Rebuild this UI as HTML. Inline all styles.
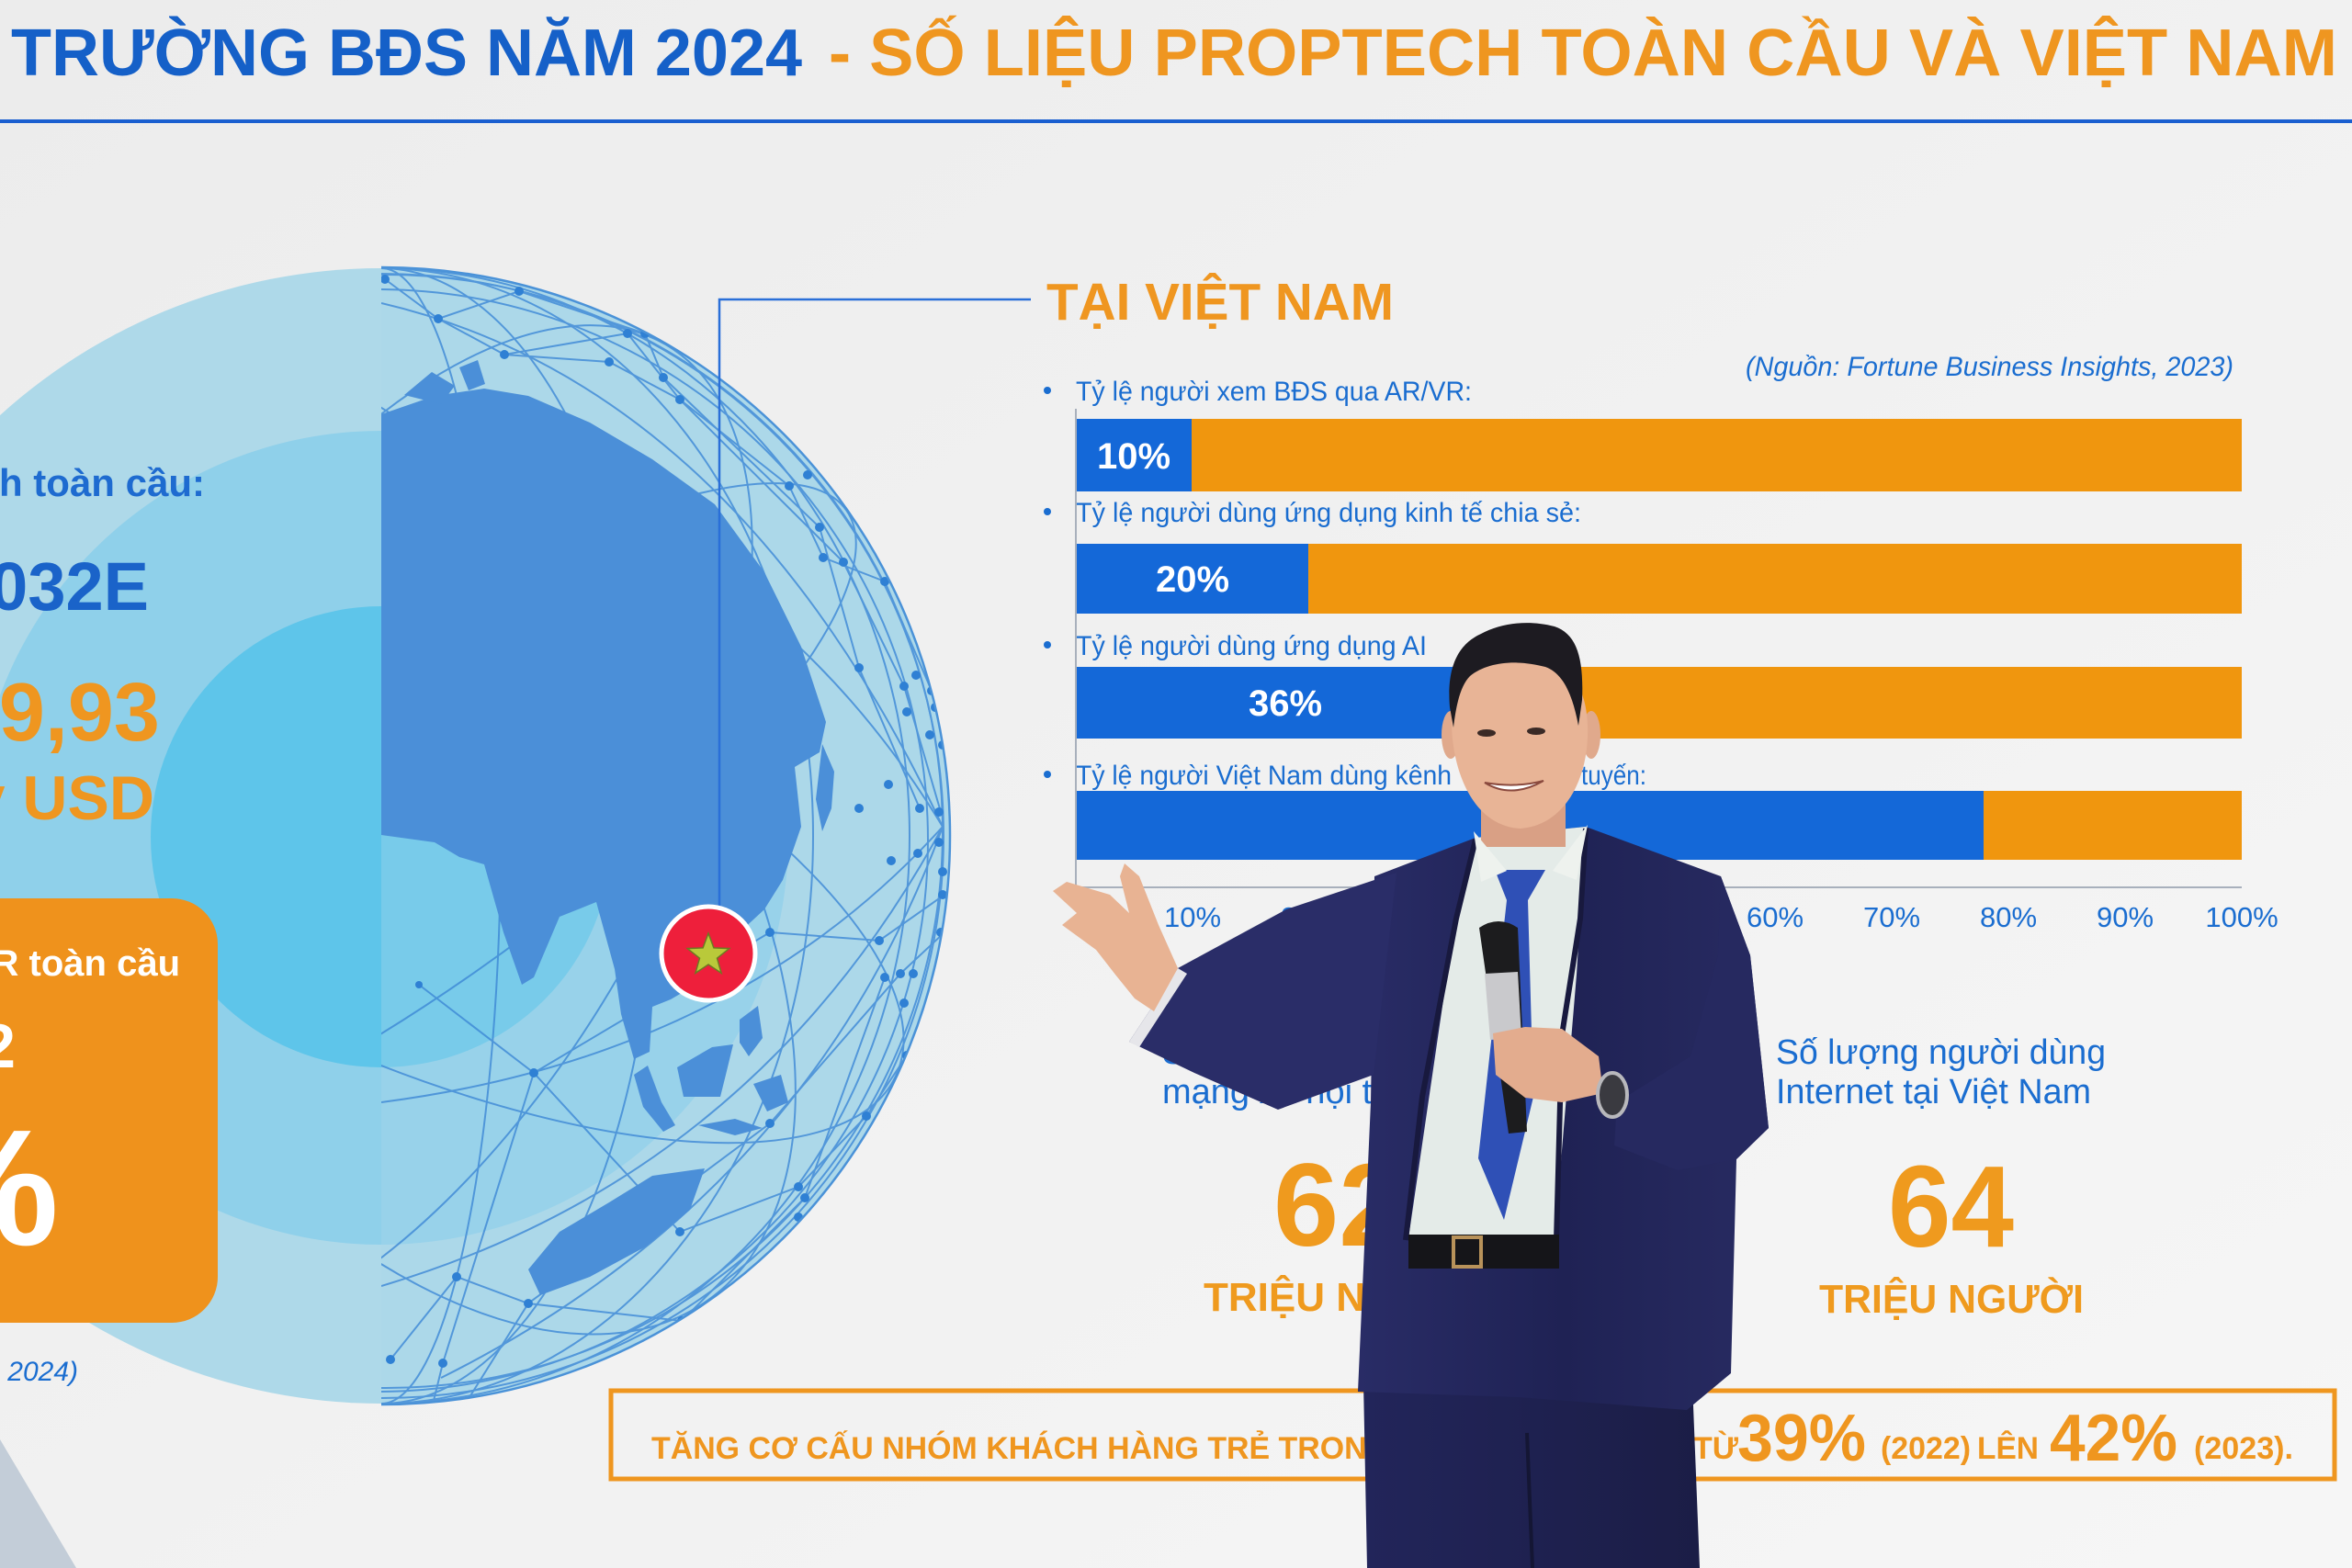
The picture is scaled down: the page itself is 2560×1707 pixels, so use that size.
<!DOCTYPE html>
<html lang="vi">
<head>
<meta charset="utf-8">
<style>
html,body{margin:0;padding:0;background:#f1f1f1;}
svg{display:block;}
text{font-family:"Liberation Sans","Noto Sans CJK SC",sans-serif;}
</style>
</head>
<body>
<svg xmlns="http://www.w3.org/2000/svg" width="2560" height="1707" viewBox="0 0 2560 1707">
<defs>
  <clipPath id="gl"><path d="M415,291 A619,619 0 0 1 415,1529 Z"/></clipPath>
  <linearGradient id="bg" x1="0" y1="0" x2="1" y2="1">
    <stop offset="0" stop-color="#ececec"/><stop offset="1" stop-color="#f6f6f6"/>
  </linearGradient>
  <linearGradient id="suit" x1="0" y1="0" x2="1" y2="0">
    <stop offset="0" stop-color="#292c66"/><stop offset="0.5" stop-color="#1f2254"/><stop offset="1" stop-color="#282b62"/>
  </linearGradient>
  <linearGradient id="pants" x1="0" y1="0" x2="1" y2="0">
    <stop offset="0" stop-color="#22255a"/><stop offset="1" stop-color="#1b1d46"/>
  </linearGradient>
</defs>

<!-- background -->
<rect x="0" y="0" width="2560" height="1707" fill="url(#bg)"/>

<!-- title -->
<text x="12" y="82" font-size="72" font-weight="bold" fill="#1560c8" textLength="861" lengthAdjust="spacingAndGlyphs">TRƯỜNG BĐS NĂM 2024</text>
<text x="902" y="82" font-size="72" font-weight="bold" fill="#ef9620" textLength="1642" lengthAdjust="spacingAndGlyphs">- SỐ LIỆU PROPTECH TOÀN CẦU VÀ VIỆT NAM</text>
<rect x="0" y="130" width="2560" height="4" fill="#1a5fd0"/>

<!-- concentric discs -->
<circle cx="415" cy="910" r="618" fill="#aed9e9"/>
<circle cx="415" cy="912" r="443" fill="#8fd0ea"/>
<circle cx="415" cy="911" r="251" fill="#5ec5ea"/>

<!-- globe right half -->
<g clip-path="url(#gl)">
  <rect x="415" y="290" width="620" height="1240" fill="#a9d6ea" opacity="0.35"/>
  <!-- network -->
  <g fill="none" stroke="#3d88d6" stroke-width="2" opacity="0.8">
    <path d="M415,292 A130,618 0 0 1 415,1528"/>
    <path d="M415,292 A300,618 0 0 1 415,1528"/>
    <path d="M415,292 A470,618 0 0 1 415,1528"/>
    <path d="M415,292 A575,618 0 0 1 415,1528"/>
    <ellipse cx="415" cy="910" rx="618" ry="180" transform="rotate(-35 415 910)"/>
    <ellipse cx="415" cy="910" rx="618" ry="300" transform="rotate(-60 415 910)"/>
    <ellipse cx="415" cy="910" rx="618" ry="230" transform="rotate(25 415 910)"/>
    <ellipse cx="415" cy="910" rx="618" ry="340" transform="rotate(55 415 910)"/>
    <circle cx="415" cy="910" r="612"/>
    <circle cx="420" cy="905" r="606"/>
    <circle cx="410" cy="915" r="600"/>
    <path d="M415,330 Q800,420 1026,900"/>
    <path d="M415,470 Q820,560 1026,900"/>
    <path d="M415,1200 Q800,1150 1026,900"/>
    <path d="M415,1400 Q820,1280 1026,900"/>
    <path d="M480,1500 Q880,1300 1026,900"/>
    <polyline points="419,304 477,347 549,386 663,394 740,435 859,529 896,607 963,633 1014,752"/>
    <polyline points="477,347 565,317 702,363 722,411 892,574 935,727 1001,880"/>
    <polyline points="549,386 683,363 740,435 918,612 984,747 1024,884"/>
    <polyline points="456,1072 581,1168 740,1341 869,1292 943,1215 987,1149"/>
    <polyline points="425,1480 497,1390 575,1419 742,1438 876,1304 963,1064"/>
    <polyline points="470,1533 482,1484 581,1168 838,1015 957,1024 1028,974"/>
    <polyline points="506,1529 575,1419 838,1223 980,1060 1028,1015"/>
  </g>
  <!-- continent -->
  <path fill="#4b8fd8" d="M415,451 L473,431 L527,423 L575,431 L642,460 L710,500 L778,549 L832,623 L872,704 L899,786 L892,819 L865,835 L872,900 L852,958 L832,990 L805,1015 L771,1064 L730,1088 L710,1096 L707,1145 L690,1153 L676,1104 L669,1055 L649,982 L609,998 L581,1064 L568,1072 L548,1015 L527,941 L500,933 L473,917 L415,909 Z"/>
  <path fill="#4b8fd8" d="M440,430 L470,405 L495,420 L480,440 Z M500,400 L520,392 L528,418 L510,425 Z M895,810 L908,840 L905,880 L895,905 L888,870 Z"/>
  <path fill="#4b8fd8" d="M737,1162 L775,1140 L798,1137 L790,1170 L784,1194 L744,1194 Z M690,1170 L705,1160 L720,1200 L735,1225 L722,1232 L700,1205 Z M805,1110 L825,1095 L830,1130 L815,1150 L805,1135 Z M760,1225 L800,1218 L830,1228 L800,1236 Z M820,1180 L850,1170 L858,1200 L835,1210 Z"/>
  <path fill="#4b8fd8" d="M575,1382 L609,1341 L663,1309 L710,1280 L767,1272 L751,1317 L703,1357 L642,1390 L588,1410 Z"/>
  <g fill="#2f80d4">
    <circle cx="419" cy="304" r="5"/><circle cx="477" cy="347" r="5"/><circle cx="565" cy="317" r="5"/>
    <circle cx="549" cy="386" r="5"/><circle cx="663" cy="394" r="5"/><circle cx="683" cy="363" r="5"/>
    <circle cx="702" cy="363" r="5"/><circle cx="722" cy="411" r="5"/><circle cx="740" cy="435" r="5"/>
    <circle cx="859" cy="529" r="5"/><circle cx="879" cy="517" r="5"/><circle cx="892" cy="574" r="5"/>
    <circle cx="896" cy="607" r="5"/><circle cx="918" cy="612" r="5"/><circle cx="963" cy="633" r="5"/>
    <circle cx="935" cy="727" r="5"/><circle cx="984" cy="747" r="5"/><circle cx="987" cy="775" r="5"/>
    <circle cx="997" cy="735" r="5"/><circle cx="1014" cy="752" r="5"/><circle cx="1018" cy="770" r="5"/>
    <circle cx="1012" cy="800" r="5"/><circle cx="1026" cy="811" r="5"/><circle cx="967" cy="854" r="5"/>
    <circle cx="935" cy="880" r="5"/><circle cx="1001" cy="880" r="5"/><circle cx="1022" cy="884" r="5"/>
    <circle cx="1022" cy="917" r="5"/><circle cx="999" cy="929" r="5"/><circle cx="970" cy="937" r="5"/>
    <circle cx="1026" cy="949" r="5"/><circle cx="1026" cy="974" r="5"/><circle cx="1024" cy="1015" r="5"/>
    <circle cx="957" cy="1024" r="5"/><circle cx="838" cy="1015" r="5"/><circle cx="963" cy="1064" r="5"/>
    <circle cx="980" cy="1060" r="5"/><circle cx="994" cy="1060" r="5"/><circle cx="984" cy="1092" r="5"/>
    <circle cx="987" cy="1149" r="5"/><circle cx="943" cy="1215" r="5"/><circle cx="838" cy="1223" r="5"/>
    <circle cx="869" cy="1292" r="5"/><circle cx="876" cy="1304" r="5"/><circle cx="869" cy="1325" r="5"/>
    <circle cx="740" cy="1341" r="5"/><circle cx="497" cy="1390" r="5"/><circle cx="575" cy="1419" r="5"/>
    <circle cx="742" cy="1438" r="5"/><circle cx="425" cy="1480" r="5"/><circle cx="482" cy="1484" r="5"/>
    <circle cx="506" cy="1529" r="5"/><circle cx="470" cy="1533" r="5"/><circle cx="581" cy="1168" r="5"/>
    <circle cx="456" cy="1072" r="4"/>
  </g>
</g>
<!-- globe rim line -->
<path d="M415,291 A619,619 0 0 1 415,1529" fill="none" stroke="#4a92d8" stroke-width="2.5"/>

<!-- connector lines -->
<path d="M783,990 L783,326 L1122,326" fill="none" stroke="#2a6fd8" stroke-width="2.5"/>

<!-- VN marker -->
<circle cx="771" cy="1038" r="51" fill="#ee1f3b" stroke="#ffffff" stroke-width="5"/>
<path d="M771,1016 L776.9,1031.9 L793.8,1032.6 L780.5,1043.1 L785.1,1059.4 L771,1050 L756.9,1059.4 L761.5,1043.1 L748.2,1032.6 L765.1,1031.9 Z" fill="#b9c93a" stroke="#6d7a22" stroke-width="1.5"/>

<!-- left panel text -->
<text x="223" y="540" font-size="42" font-weight="bold" fill="#1e6bd0" text-anchor="end">Proptech toàn cầu:</text>
<text x="162" y="664" font-size="74" font-weight="bold" fill="#1a63c9" text-anchor="end">2024-2032E</text>
<text x="174" y="806" font-size="90" font-weight="bold" fill="#ef9620" text-anchor="end">89,93</text>
<text x="168" y="892" font-size="68" font-weight="bold" fill="#ef9620" text-anchor="end">tỷ USD</text>

<rect x="-60" y="978" width="297" height="462" rx="50" fill="#ef921c"/>
<text x="196" y="1062" font-size="40" font-weight="bold" fill="#ffffff" text-anchor="end">CAGR toàn cầu</text>
<text x="17" y="1162" font-size="68" font-weight="bold" fill="#ffffff" text-anchor="end">2024-2032</text>
<text x="64" y="1355" font-size="180" font-weight="bold" fill="#ffffff" text-anchor="end">5%</text>
<text x="85" y="1503" font-size="30" font-style="italic" fill="#1a6dd0" text-anchor="end">(Nguồn: Fortune Business Insights, 2024)</text>

<!-- bottom-left gray texture -->
<path d="M0,1567 L83,1707 L0,1707 Z" fill="#c3cdd8"/>

<!-- TẠI VIỆT NAM -->
<text x="1139" y="348" font-size="57" font-weight="bold" fill="#ef9620" textLength="378" lengthAdjust="spacingAndGlyphs">TẠI VIỆT NAM</text>
<text x="1900" y="409" font-size="30" font-style="italic" fill="#1a6dd0" textLength="531" lengthAdjust="spacingAndGlyphs">(Nguồn: Fortune Business Insights, 2023)</text>

<!-- bullets -->
<g fill="#1a6dd0">
  <circle cx="1140" cy="425" r="4"/><circle cx="1140" cy="557" r="4"/>
  <circle cx="1140" cy="702" r="4"/><circle cx="1140" cy="843" r="4"/>
</g>
<g font-size="30" fill="#1a6dd0">
  <text x="1171" y="436" textLength="431" lengthAdjust="spacingAndGlyphs">Tỷ lệ người xem BĐS qua AR/VR:</text>
  <text x="1171" y="568" textLength="550" lengthAdjust="spacingAndGlyphs">Tỷ lệ người dùng ứng dụng kinh tế chia sẻ:</text>
  <text x="1171" y="713" textLength="382" lengthAdjust="spacingAndGlyphs">Tỷ lệ người dùng ứng dụng AI</text>
  <text x="1171" y="854" textLength="409" lengthAdjust="spacingAndGlyphs">Tỷ lệ người Việt Nam dùng kênh</text>
  <text x="1595" y="854">mua trực</text>
  <text x="1721" y="854" textLength="71" lengthAdjust="spacingAndGlyphs">tuyến:</text>
</g>

<!-- bars -->
<rect x="1171" y="456" width="1269" height="79" fill="#f0960e"/>
<rect x="1171" y="456" width="126" height="79" fill="#1468d8"/>
<rect x="1171" y="592" width="1269" height="76" fill="#f0960e"/>
<rect x="1171" y="592" width="253" height="76" fill="#1468d8"/>
<rect x="1171" y="726" width="1269" height="78" fill="#f0960e"/>
<rect x="1171" y="726" width="457" height="78" fill="#1468d8"/>
<rect x="1171" y="861" width="1269" height="75" fill="#f0960e"/>
<rect x="1171" y="861" width="988" height="75" fill="#1468d8"/>
<g font-size="40" font-weight="bold" fill="#ffffff" text-anchor="middle">
  <text x="1234" y="510">10%</text>
  <text x="1298" y="644">20%</text>
  <text x="1399" y="779">36%</text>
  <text x="1665" y="913">78%</text>
</g>
<!-- axes -->
<rect x="1170" y="445" width="2" height="522" fill="#a8b0bc"/>
<rect x="1171" y="965" width="1269" height="2" fill="#a8b0bc"/>
<g font-size="31" fill="#1a6dd0" text-anchor="middle">
  <text x="1298" y="1009">10%</text>
  <text x="1425" y="1009">20%</text>
  <text x="1552" y="1009">30%</text>
  <text x="1679" y="1009">40%</text>
  <text x="1806" y="1009">50%</text>
  <text x="1932" y="1009">60%</text>
  <text x="2059" y="1009">70%</text>
  <text x="2186" y="1009">80%</text>
  <text x="2313" y="1009">90%</text>
  <text x="2440" y="1009">100%</text>
</g>

<!-- stats -->
<g font-size="38" fill="#1a6dd0">
  <text x="1265" y="1158">Số lượng người dùng</text>
  <text x="1265" y="1201">mạng xã hội tại Việt Nam</text>
  <text x="1933" y="1158" textLength="359" lengthAdjust="spacingAndGlyphs">Số lượng người dùng</text>
  <text x="1933" y="1201" textLength="343" lengthAdjust="spacingAndGlyphs">Internet tại Việt Nam</text>
</g>
<g font-weight="bold" fill="#ef9a1e">
  <text x="1386" y="1356" font-size="128">62</text>
  <text x="2055" y="1357" font-size="126" textLength="137" lengthAdjust="spacingAndGlyphs">64</text>
  <text x="1310" y="1427" font-size="44">TRIỆU NGƯỜI</text>
  <text x="1980" y="1429" font-size="44" textLength="288" lengthAdjust="spacingAndGlyphs">TRIỆU NGƯỜI</text>
</g>

<!-- bottom box -->
<rect x="665" y="1514" width="1876" height="96" fill="none" stroke="#ef961f" stroke-width="5"/>
<g font-weight="bold" fill="#ef961f">
  <text x="709" y="1588" font-size="34" textLength="805" lengthAdjust="spacingAndGlyphs">TĂNG CƠ CẤU NHÓM KHÁCH HÀNG TRẺ TRONG</text>
  <text x="1843" y="1588" font-size="34">TỪ</text>
  <text x="1891" y="1590" font-size="72" textLength="140" lengthAdjust="spacingAndGlyphs">39%</text>
  <text x="2047" y="1588" font-size="34" textLength="98" lengthAdjust="spacingAndGlyphs">(2022)</text>
  <text x="2152" y="1588" font-size="34" textLength="67" lengthAdjust="spacingAndGlyphs">LÊN</text>
  <text x="2231" y="1590" font-size="72" textLength="139" lengthAdjust="spacingAndGlyphs">42%</text>
  <text x="2388" y="1588" font-size="34" textLength="108" lengthAdjust="spacingAndGlyphs">(2023).</text>
</g>

<!-- PERSON -->
<!-- pants -->
<path d="M1484,1505 L1842,1505 L1850,1707 L1488,1707 Z" fill="url(#pants)"/>
<path d="M1662,1560 L1668,1707" stroke="#141634" stroke-width="4"/>
<!-- jacket -->
<path d="M1496,954 L1606,912 L1726,900 L1873,954 L1905,1040 L1925,1228 L1890,1262 L1884,1495 L1836,1535 L1653,1521 L1478,1515 L1492,1200 Z" fill="url(#suit)"/>
<!-- left sleeve (raised arm) -->
<path d="M1520,950 L1400,990 L1282,1054 L1229,1134 L1300,1168 L1391,1208 L1495,1170 Z" fill="#2a2d68"/>
<path d="M1282,1054 L1229,1134 L1240,1140 L1292,1060 Z" fill="#e6e6ea"/>
<!-- raised hand -->
<path d="M1282,1054 L1261,1007 L1240,954 L1224,940 L1219,954 L1229,994 L1208,974 L1161,960 L1146,970 L1172,994 L1156,1007 L1193,1034 L1214,1061 L1235,1087 L1256,1101 Z" fill="#e8b393"/>
<!-- right sleeve shading -->
<path d="M1873,954 L1905,1040 L1925,1228 L1890,1262 L1826,1274 L1757,1247 L1760,1200 L1840,1150 L1870,1040 Z" fill="#262960"/>
<!-- shirt -->
<path d="M1606,912 L1726,900 L1716,1061 L1692,1348 L1533,1348 L1575,1061 Z" fill="#e4ebe8"/>
<!-- lapel edges -->
<path d="M1606,914 L1585,1000 L1548,1194 L1530,1350" fill="none" stroke="#18193e" stroke-width="6"/>
<path d="M1726,902 L1720,1000 L1700,1127 L1694,1350" fill="none" stroke="#18193e" stroke-width="6"/>
<!-- tie -->
<path d="M1627,947 L1682,947 L1663,980 L1669,1194 L1637,1328 L1609,1261 L1640,980 Z" fill="#2f50b6"/>
<!-- belt -->
<rect x="1533" y="1344" width="164" height="37" fill="#151519"/>
<rect x="1582" y="1347" width="30" height="32" fill="none" stroke="#b8925a" stroke-width="4"/>
<!-- microphone -->
<path d="M1610,1010 Q1631,996 1652,1010 L1662,1232 L1642,1234 Z" fill="#1c1c1e"/>
<path d="M1616,1060 L1652,1058 L1656,1130 L1622,1132 Z" fill="#c9c9cc"/>
<!-- right hand -->
<path d="M1625,1125 L1660,1118 L1700,1120 L1740,1150 L1745,1190 L1700,1200 L1660,1195 L1628,1170 Z" fill="#e3ac8e"/>
<ellipse cx="1755" cy="1192" rx="16" ry="24" fill="#3a3a40" stroke="#b8b8bc" stroke-width="4"/>
<!-- neck -->
<rect x="1612" y="872" width="92" height="50" fill="#d9a085"/>
<path d="M1604,905 L1640,948 L1612,960 Z M1728,898 L1690,948 L1716,958 Z" fill="#eef2ee"/>
<!-- face -->
<ellipse cx="1579" cy="800" rx="10" ry="26" fill="#e0a98c"/>
<ellipse cx="1732" cy="800" rx="10" ry="26" fill="#e0a98c"/>
<path d="M1580,790 C1578,740 1600,718 1652,716 C1704,716 1726,740 1728,790 C1730,845 1705,898 1655,902 C1608,900 1582,848 1580,790 Z" fill="#e8b496"/>
<!-- hair -->
<path d="M1578,770 C1574,722 1590,700 1612,690 C1632,679 1662,674 1692,682 C1716,690 1724,716 1722,762 L1718,790 C1712,758 1702,733 1682,726 C1652,718 1620,720 1600,736 C1590,746 1585,766 1582,792 Z" fill="#1d1b21"/>
<!-- facial features -->
<ellipse cx="1618" cy="798" rx="10" ry="4" fill="#3a2a26"/>
<ellipse cx="1672" cy="796" rx="10" ry="4" fill="#3a2a26"/>
<path d="M1616,852 Q1645,870 1680,850 Q1650,858 1616,852 Z" fill="#ffffff" stroke="#8a4a3e" stroke-width="2"/>
</svg>
</body>
</html>
